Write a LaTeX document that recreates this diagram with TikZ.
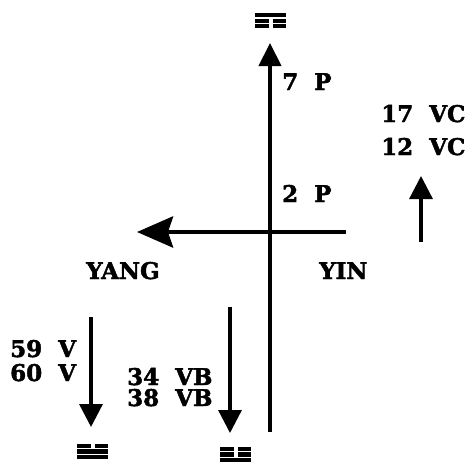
\documentclass[tikz,border=0pt]{standalone}
\usepackage{fontspec}
\setmainfont{DejaVu Serif}[BoldFeatures={FakeBold=2}]
\usetikzlibrary{arrows.meta}

\begin{document}
\begin{tikzpicture}[x=1pt, y=-1pt,
  lbl/.style={anchor=base west, inner sep=0pt, font=\fontsize{23}{23}\selectfont\bfseries},
  axisarrow/.style={line width=4.2pt, -{Triangle[length=23pt, width=22pt]}},
  bigarrow/.style={line width=4.5pt, -{Stealth[length=36pt, width=31pt, inset=5pt]}},
  smallarrow/.style={line width=3.3pt, -{Triangle[length=23pt, width=23pt]}},
  solidbar/.pic={\fill (-15.5,-2.1) rectangle (15.5,2.1);},
  brokenbar/.pic={\fill (-15.5,-2.1) rectangle (-2,2.1); \fill (2,-2.1) rectangle (15.5,2.1);}
]
  \useasboundingbox (0,0) rectangle (465,463);

  % axes
  \coordinate (axbot) at (270,432);
  \coordinate (axtop) at (270,43);
  \coordinate (yinend) at (346,232);
  \coordinate (yangtip) at (137,232);
  \draw[axisarrow] (axbot) -- (axtop);
  \draw[bigarrow] (yinend) -- (yangtip);

  % side arrows
  \coordinate (vcbot) at (421,242);
  \coordinate (vctop) at (421,176);
  \coordinate (vtop) at (91,317);
  \coordinate (vbot) at (91,427);
  \coordinate (vbtop) at (230,307);
  \coordinate (vbbot) at (230,433);
  \draw[smallarrow] (vcbot) -- (vctop);
  \draw[smallarrow] (vtop) -- (vbot);
  \draw[smallarrow] (vbtop) -- (vbbot);

  % labels
  \node[lbl] (p7) at (282,90) {7\ \ P};
  \node[lbl] (p2) at (282,202) {2\ \ P};
  \node[lbl] (vc17) at (381,122) {17\ \ VC};
  \node[lbl] (vc12) at (381,155) {12\ \ VC};
  \node[lbl] (yang) at (86,279) {YANG};
  \node[lbl] (yin) at (319,279) {YIN};
  \node[lbl] (v59) at (10,357) {59\ \ V};
  \node[lbl] (v60) at (10,381) {60\ \ V};
  \node[lbl] (vb34) at (127,385) {34\ \ VB};
  \node[lbl] (vb38) at (127,406) {38\ \ VB};

  % trigrams
  \pic at (270.5,15.3) {solidbar};
  \pic at (270.5,20.8) {brokenbar};
  \pic at (270.5,26.3) {brokenbar};

  \pic at (92.5,446) {brokenbar};
  \pic at (92.5,451.5) {solidbar};
  \pic at (92.5,457) {solidbar};

  \pic at (235.5,449) {brokenbar};
  \pic at (235.5,454.5) {brokenbar};
  \pic at (235.5,460) {solidbar};
\end{tikzpicture}
\end{document}
